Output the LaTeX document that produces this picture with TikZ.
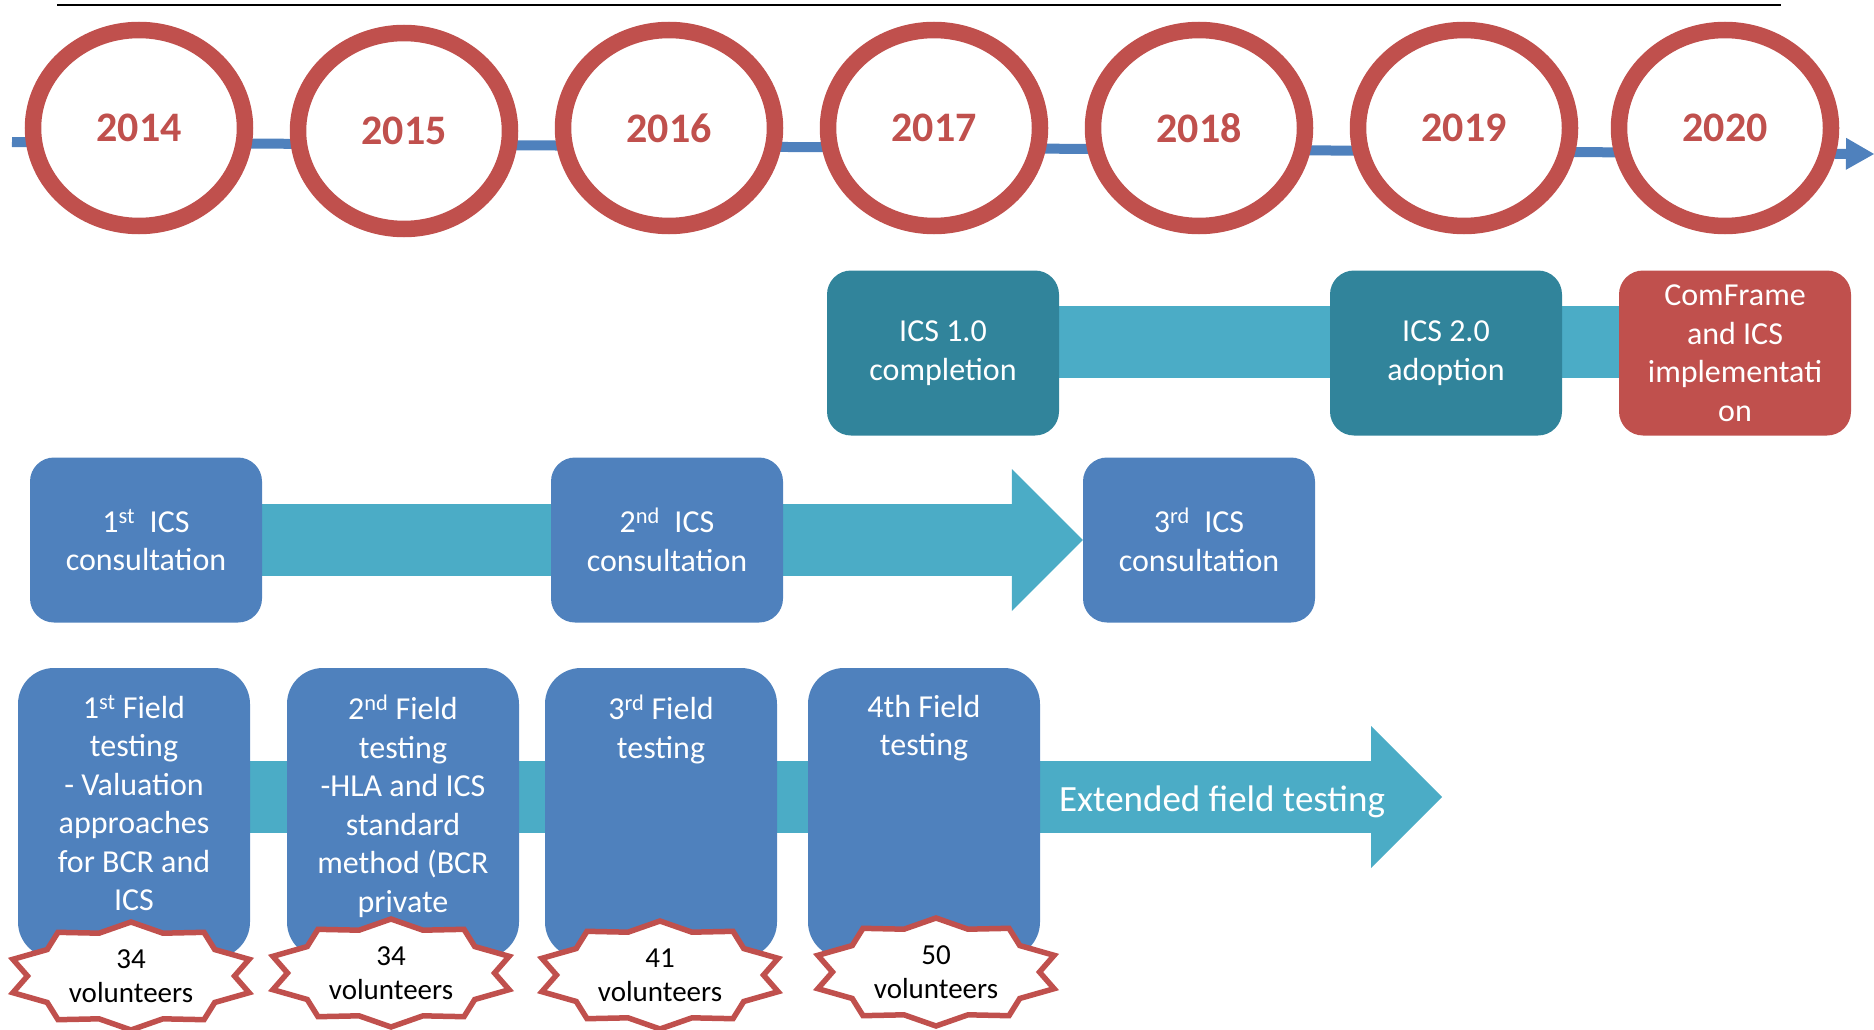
\documentclass[tikz,border=0pt]{standalone}
\usepackage{fontspec}
\setmainfont{Carlito}
\usepackage{tikz}
\usetikzlibrary{shapes,arrows.meta,backgrounds}
\definecolor{ired}{HTML}{C0504D}
\definecolor{iblue}{HTML}{4F81BD}
\definecolor{iteal}{HTML}{31849B}
\definecolor{ibar}{HTML}{4BACC6}
\tikzstyle{yr} = [ellipse, draw=ired, line width=16.5pt, fill=white, minimum width=212pt, minimum height=196pt, inner sep=0pt, text=ired, font=\fontsize{42}{50}\selectfont\bfseries]
\tikzstyle{bx} = [rectangle, rounded corners=24pt, minimum width=232pt, minimum height=165pt, inner sep=0pt, align=center, text=white, font=\fontsize{32}{38.5}\selectfont]
\tikzstyle{fb} = [rectangle, rounded corners=36pt, minimum width=232pt, minimum height=290pt, fill=iblue]
\tikzstyle{ft} = [anchor=north, inner sep=0pt, align=center, text=white, font=\fontsize{32}{38.5}\selectfont]
\tikzstyle{vs} = [star, star points=10, star point ratio=1.2, minimum size=108pt, inner sep=0pt, draw=ired, line width=5.5pt, fill=white, xscale=2.3]
\tikzstyle{vt} = [align=center, inner sep=0pt, font=\fontsize{29}{34}\selectfont]
\tikzstyle{bar} = [draw=ibar, line width=72pt]
\tikzstyle{head} = [-{Triangle[length=71pt,width=142pt,line width=0pt]}]
\tikzstyle{tl} = [draw=iblue, line width=10pt, -{Triangle[length=28pt,width=32pt,line width=0pt]}]

\begin{document}
\begin{tikzpicture}[x=1pt,y=-1pt,node distance=265pt]
			\useasboundingbox (0,0) rectangle (1874,1030);
			\coordinate (ruleL) at (57,5);
			\coordinate (ruleR) at (1781,5);
			\coordinate (tlL) at (12,142);
			\coordinate (tlR) at (1874,154);
			\draw[line width=2.5pt] (ruleL) -- (ruleR);
			\draw[tl] (tlL) -- (tlR);

			\node[yr](y1) at (139,128){2014};
			\node[yr,right of=y1,yshift=-3pt](y2){2015};
			\node[yr,right of=y2,yshift=3pt](y3){2016};
			\node[yr,right of=y3](y4){2017};
			\node[yr,right of=y4](y5){2018};
			\node[yr,right of=y5](y6){2019};
			\node[yr,right of=y6,xshift=-4pt](y7){2020};

			\node[bx,fill=iteal](t1) at (943,353){ICS 1.0\\completion};
			\node[bx,fill=iteal](t2) at (1446,353){ICS 2.0\\adoption};
			\node[bx,fill=ired](t3) at (1735,353){ComFrame\\and ICS\\implementati\\on};

			\node[bx,fill=iblue](c1) at (146,540){1\textsuperscript{st}~ ICS\\consultation};
			\node[bx,fill=iblue](c2) at (667,540){2\textsuperscript{nd}~ ICS\\consultation};
			\node[bx,fill=iblue](c3) at (1199,540){3\textsuperscript{rd}~ ICS\\consultation};

			\node[fb](f1) at (134,813){};
			\node[fb](f2) at (403,813){};
			\node[fb](f3) at (661,813){};
			\node[fb](f4) at (924,813){};
			\node[ft] (f1t) at ([yshift=-27pt]f1.north){1\textsuperscript{st} Field\\testing\\- Valuation\\approaches\\for BCR and\\ICS};
			\node[ft] (f2t) at ([yshift=-27pt]f2.north){2\textsuperscript{nd} Field\\testing\\-HLA and ICS\\standard\\method (BCR\\private};
			\node[ft] (f3t) at ([yshift=-27pt]f3.north){3\textsuperscript{rd} Field\\testing};
			\node[ft] (f4t) at ([yshift=-27pt]f4.north){4th Field\\testing};

			\coordinate (xt) at (1442,797);
			\node[text=white,font=\fontsize{37}{44}\selectfont](ext) at (1222,802){Extended field testing};

			\node[vs](s1) at (131,976){};
			\node[vs](s2) at (391,973){};
			\node[vs](s3) at (660,975){};
			\node[vs](s4) at (936,972){};
			\node[vt](v1) at (s1){34\\volunteers};
			\node[vt](v2) at (s2){34\\volunteers};
			\node[vt](v3) at (s3){41\\volunteers};
			\node[vt](v4) at (s4){50\\volunteers};

			\begin{pgfonlayer}{background}
			\draw[bar] ([yshift=11pt]t1.center) -- ([yshift=11pt]t3.center);
			\draw[bar,head] (c1) -- (c3.west);
			\draw[bar,head] (f1.center |- xt) -- (xt);
			\end{pgfonlayer}
\end{tikzpicture}
\end{document}
